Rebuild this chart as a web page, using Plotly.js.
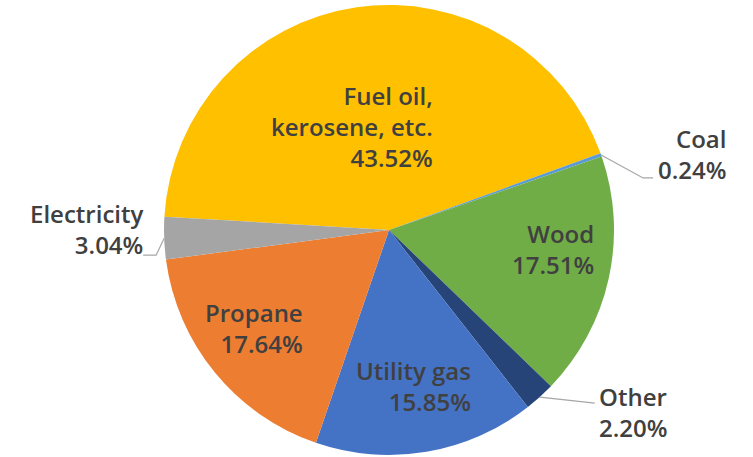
<!DOCTYPE html>
<html>
<head>
<meta charset="utf-8">
<script src="https://cdn.plot.ly/plotly-3.0.1.min.js"></script>
<style>html,body{margin:0;padding:0;background:#fff;}#chart{width:753px;height:457px;}</style>
</head>
<body>
<div id="chart"></div>
<script>
// ---- data ----
const labels = ['Fuel oil, kerosene, etc.', 'Coal', 'Wood', 'Other', 'Utility gas', 'Propane', 'Electricity'];
const labelLines = ['Fuel oil,<br>kerosene, etc.', 'Coal', 'Wood', 'Other', 'Utility gas', 'Propane', 'Electricity'];
const values = [43.52, 0.24, 17.51, 2.20, 15.85, 17.64, 3.04];
const colors = ['#FFC000', '#5B9BD5', '#70AD47', '#264478', '#4472C4', '#ED7D31', '#A5A5A5'];

// ---- layout / style ----
const W = 753, H = 457;
const CX = 389, CY = 230, R = 225;
const ROTATION = -86.6; // start angle of first slice, degrees clockwise from 12 o'clock
const TEXT_COLOR = '#404040';
const FONT = {family: '"Open Sans", "Noto Sans", sans-serif', size: 24, color: TEXT_COLOR, weight: 600};

// label placement styles (per slice, same order as data)
const placement = [
  {mode: 'in', rf: 0.462, dx: -22, dy: -1},
  {mode: 'out', off: [127, -1], xanchor: 'right', leader: [[42, 23], [52, 23]]},
  {mode: 'in', rf: 0.738, dx: 2, dy: -17},
  {mode: 'out', off: [57, 15], xanchor: 'left', leader: [[55, 6]]},
  {mode: 'in', rf: 0.707, dx: -2, dy: -1},
  {mode: 'in', rf: 0.742, dx: -6, dy: -8},
  {mode: 'out', off: [-19, -9], xanchor: 'right', leader: [[-8, 17], [-21, 17]]}
];

const px2x = x => x / W;
const px2y = y => 1 - y / H;
function pt(angDeg, r) {
  const a = angDeg * Math.PI / 180;
  return [CX + r * Math.sin(a), CY - r * Math.cos(a)];
}

const total = values.reduce((a, b) => a + b, 0);
let cum = 0;
const annotations = [];
const shapes = [];
values.forEach((v, i) => {
  const mid = ROTATION + (cum + v / 2) / total * 360;
  cum += v;
  const pct = v.toFixed(2) + '%';
  const p = placement[i];
  const text = labelLines[i] + '<br>' + pct;
  if (p.mode === 'in') {
    const [x, y] = pt(mid, p.rf * R);
    annotations.push({
      x: px2x(x + p.dx), y: px2y(y + p.dy), xref: 'paper', yref: 'paper',
      xanchor: 'center', yanchor: 'middle', align: 'right', showarrow: false,
      text: text, font: FONT
    });
  } else {
    const [ex, ey] = pt(mid, R);
    annotations.push({
      x: px2x(ex + p.off[0]), y: px2y(ey + p.off[1]), xref: 'paper', yref: 'paper',
      xanchor: p.xanchor, yanchor: 'middle', align: p.xanchor, showarrow: false,
      text: text, font: FONT
    });
    let path = 'M ' + px2x(ex) + ',' + px2y(ey);
    p.leader.forEach(o => { path += ' L ' + px2x(ex + o[0]) + ',' + px2y(ey + o[1]); });
    shapes.push({type: 'path', xref: 'paper', yref: 'paper', path: path,
      line: {color: '#A6A6A6', width: 1.2}});
  }
});

const trace = {
  type: 'pie',
  labels: labels,
  values: values,
  sort: false,
  direction: 'clockwise',
  rotation: ROTATION,
  marker: {colors: colors, line: {width: 0}},
  textinfo: 'none',
  hoverinfo: 'none',
  domain: {x: [(CX - R) / W, (CX + R) / W], y: [1 - (CY + R) / H, 1 - (CY - R) / H]},
  showlegend: false
};

const layout = {
  width: W, height: H,
  margin: {l: 0, r: 0, t: 0, b: 0},
  paper_bgcolor: '#ffffff',
  plot_bgcolor: '#ffffff',
  showlegend: false,
  annotations: annotations,
  shapes: shapes,
  font: FONT
};

Plotly.newPlot('chart', [trace], layout, {staticPlot: true, displayModeBar: false});
</script>
</body>
</html>
